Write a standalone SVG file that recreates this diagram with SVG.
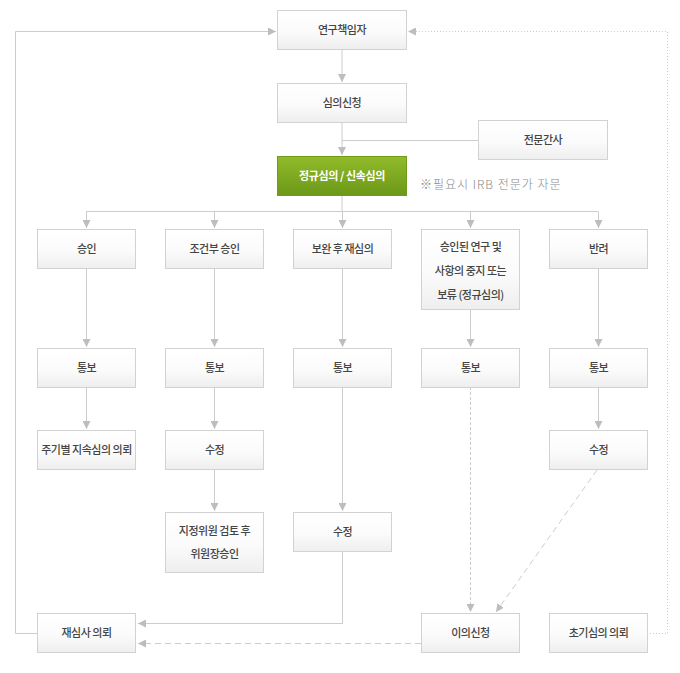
<svg xmlns="http://www.w3.org/2000/svg" width="680" height="673" viewBox="0 0 680 673">
<defs>
<linearGradient id="gBox" x1="0" y1="0" x2="0" y2="1">
<stop offset="0" stop-color="#ffffff"/>
<stop offset="0.55" stop-color="#fbfbfb"/>
<stop offset="1" stop-color="#eeeeee"/>
</linearGradient>
<linearGradient id="gGreen" x1="0" y1="0" x2="0" y2="1">
<stop offset="0" stop-color="#91bb2a"/>
<stop offset="1" stop-color="#6c9819"/>
</linearGradient>
<marker id="arr" viewBox="0 0 8 8" markerWidth="8" markerHeight="8" refX="8" refY="4" orient="auto" markerUnits="userSpaceOnUse">
<path d="M0,0 L8,4 L0,8 z" fill="#bdbdbd"/>
</marker>
</defs>
<style>
.box{fill:url(#gBox);stroke:#d2d2d2;stroke-width:1}
.green{fill:url(#gGreen);stroke:#6f9a1b;stroke-width:1}
.t{font-family:"Noto Sans CJK KR","Noto Sans",sans-serif;font-size:11px;fill:#444;text-anchor:middle;font-weight:500;letter-spacing:-0.5px}
.tw{font-family:"Noto Sans CJK KR","Noto Sans",sans-serif;font-size:11px;fill:#ffffff;text-anchor:middle;font-weight:700;letter-spacing:-0.4px}
.note{font-family:"Noto Sans CJK KR","Noto Sans",sans-serif;font-size:12px;fill:#8a8a8a;font-weight:300;letter-spacing:1px}
.c{fill:none;stroke:#cccccc;stroke-width:1}
.ca{fill:none;stroke:#cccccc;stroke-width:1;marker-end:url(#arr)}
.dash{stroke-dasharray:3 2}
.dash2{stroke-dasharray:6 4}
.dot{stroke-dasharray:1 2}
</style>
<rect width="680" height="673" fill="#ffffff"/>
<g id="connectors">
<line class="ca" x1="342" y1="49.5" x2="342" y2="82"/>
<line class="ca" x1="342" y1="122.5" x2="342" y2="155"/>
<line class="c" x1="478" y1="140.5" x2="342" y2="140.5"/>
<line class="c" x1="342" y1="196" x2="342" y2="211.5"/>
<line class="c" x1="86" y1="211.5" x2="598" y2="211.5"/>
<line class="ca" x1="86.5" y1="211.5" x2="86.5" y2="228"/>
<line class="ca" x1="214.5" y1="211.5" x2="214.5" y2="228"/>
<line class="ca" x1="342.5" y1="211.5" x2="342.5" y2="228"/>
<line class="ca" x1="470.5" y1="211.5" x2="470.5" y2="228"/>
<line class="ca" x1="598.5" y1="211.5" x2="598.5" y2="228"/>
<line class="ca" x1="86.5" y1="268" x2="86.5" y2="347"/>
<line class="ca" x1="214.5" y1="268" x2="214.5" y2="347"/>
<line class="ca" x1="342.5" y1="268" x2="342.5" y2="347"/>
<line class="ca" x1="470.5" y1="309" x2="470.5" y2="347"/>
<line class="ca" x1="598.5" y1="268" x2="598.5" y2="347"/>
<line class="ca" x1="86.5" y1="387" x2="86.5" y2="429"/>
<line class="ca" x1="214.5" y1="387" x2="214.5" y2="429"/>
<line class="ca" x1="598.5" y1="387" x2="598.5" y2="429"/>
<line class="ca" x1="214.5" y1="469" x2="214.5" y2="511"/>
<line class="ca" x1="342.5" y1="387" x2="342.5" y2="511"/>
<polyline class="ca" points="342.5,552 342.5,623.5 138,623.5"/>
<line class="ca dash2" x1="421" y1="643.5" x2="138" y2="643.5"/>
<line class="ca dash" x1="470.5" y1="387" x2="470.5" y2="612"/>
<line class="ca dash2" x1="597" y1="470" x2="496" y2="612"/>
<polyline class="ca" points="37,633.5 15.5,633.5 15.5,31.5 276,31.5"/>
<polyline class="ca dot" points="647,633.5 667.5,633.5 667.5,31.5 408,31.5"/>
</g>
<g id="n-researcher"><rect class="box" x="277.5" y="10.5" width="129" height="39"/><text class="t" x="342" y="34">연구책임자</text></g>
<g id="n-apply"><rect class="box" x="277.5" y="83.5" width="129" height="39"/><text class="t" x="342" y="107">심의신청</text></g>
<g id="n-secretary"><rect class="box" x="478.5" y="120.5" width="129" height="39"/><text class="t" x="543" y="144">전문간사</text></g>
<g id="n-review"><rect class="green" x="277.5" y="156.5" width="129" height="39"/><text class="tw" x="342" y="180">정규심의 / 신속심의</text></g>
<g id="note"><text class="note" x="420" y="189">※필요시  IRB 전문가 자문</text></g>
<g id="n-approve"><rect class="box" x="37.5" y="229.5" width="98" height="39"/><text class="t" x="86.5" y="253">승인</text></g>
<g id="n-cond"><rect class="box" x="165.5" y="229.5" width="98" height="39"/><text class="t" x="214.5" y="253">조건부 승인</text></g>
<g id="n-rereview"><rect class="box" x="293.5" y="229.5" width="98" height="39"/><text class="t" x="342.5" y="253">보완 후 재심의</text></g>
<g id="n-suspend"><rect class="box" x="421.5" y="229.5" width="98" height="80"/><text class="t" x="470.5" y="251">승인된 연구 및</text><text class="t" x="470.5" y="275">사항의 중지 또는</text><text class="t" x="470.5" y="299">보류 (정규심의)</text></g>
<g id="n-reject"><rect class="box" x="549.5" y="229.5" width="98" height="39"/><text class="t" x="598.5" y="253">반려</text></g>
<g id="n-notify1"><rect class="box" x="37.5" y="348.5" width="98" height="39"/><text class="t" x="86.5" y="372">통보</text></g>
<g id="n-notify2"><rect class="box" x="165.5" y="348.5" width="98" height="39"/><text class="t" x="214.5" y="372">통보</text></g>
<g id="n-notify3"><rect class="box" x="293.5" y="348.5" width="98" height="39"/><text class="t" x="342.5" y="372">통보</text></g>
<g id="n-notify4"><rect class="box" x="421.5" y="348.5" width="98" height="39"/><text class="t" x="470.5" y="372">통보</text></g>
<g id="n-notify5"><rect class="box" x="549.5" y="348.5" width="98" height="39"/><text class="t" x="598.5" y="372">통보</text></g>
<g id="n-periodic"><rect class="box" x="37.5" y="430.5" width="98" height="39"/><text class="t" x="86.5" y="454">주기별 지속심의 의뢰</text></g>
<g id="n-modify1"><rect class="box" x="165.5" y="430.5" width="98" height="39"/><text class="t" x="214.5" y="454">수정</text></g>
<g id="n-modify3"><rect class="box" x="549.5" y="430.5" width="98" height="39"/><text class="t" x="598.5" y="454">수정</text></g>
<g id="n-designated"><rect class="box" x="165.5" y="512.5" width="98" height="60"/><text class="t" x="214.5" y="535">지정위원 검토 후</text><text class="t" x="214.5" y="558">위원장승인</text></g>
<g id="n-modify2"><rect class="box" x="293.5" y="512.5" width="98" height="39"/><text class="t" x="342.5" y="536">수정</text></g>
<g id="n-rereq"><rect class="box" x="37.5" y="613.5" width="98" height="39"/><text class="t" x="86.5" y="637">재심사 의뢰</text></g>
<g id="n-objection"><rect class="box" x="421.5" y="613.5" width="98" height="39"/><text class="t" x="470.5" y="637">이의신청</text></g>
<g id="n-initial"><rect class="box" x="549.5" y="613.5" width="98" height="39"/><text class="t" x="598.5" y="637">초기심의 의뢰</text></g>
</svg>
